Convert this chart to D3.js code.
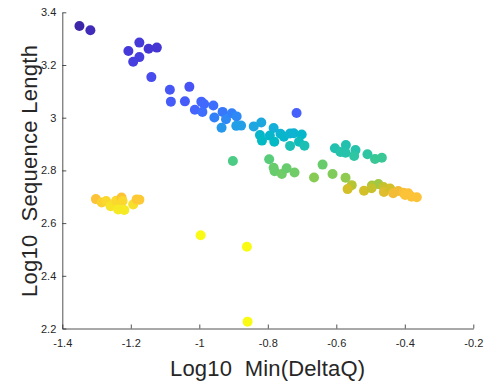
<!DOCTYPE html>
<html><head><meta charset="utf-8">
<script src="https://cdn.jsdelivr.net/npm/d3@7"></script>
<style>body{margin:0;background:#fff}svg{display:block}text{font-family:"Liberation Sans",Arial,sans-serif;fill:#262626}</style>
</head><body>
<svg id="c" width="487" height="387"></svg>
<script>
const xTicks = [-1.4,-1.2,-1,-0.8,-0.6,-0.4,-0.2];
const yTicks = [2.2,2.4,2.6,2.8,3,3.2,3.4];
const xLabel = "Log10  Min(DeltaQ)";
const yLabel = "Log10  Sequence Length";
const xVals = [-1.350,-1.318,-1.207,-1.175,-1.148,-1.124,-1.175,-1.193,-1.140,
 -1.086,-1.029,-1.083,-1.042,-1.013,-0.994,-0.986,-0.991,-0.959,-0.956,-0.932,-0.935,-0.922,-0.905,-0.891,-0.892,-0.878,-0.841,-0.819,
 -0.823,-0.817,-0.783,-0.794,-0.781,-0.763,-0.753,-0.735,-0.724,-0.701,-0.709,-0.693,-0.735,-0.716,
 -0.604,-0.588,-0.572,-0.573,-0.544,-0.548,-0.509,-0.487,-0.467,
 -0.902,-0.796,-0.783,-0.780,-0.759,-0.745,-0.722,-0.665,-0.640,-0.611,-0.573,-0.555,
 -0.567,-0.519,-0.496,-0.477,-0.497,-0.462,-0.461,-0.443,-0.434,-0.419,-0.404,-0.390,-0.399,-0.380,-0.365,
 -1.302,-1.285,-1.272,-1.259,-1.243,-1.237,-1.227,-1.224,-1.219,-1.193,-1.183,-1.175,
 -0.996,-0.861,-0.859];
const yVals = [3.348,3.332,3.253,3.285,3.262,3.266,3.230,3.212,3.154,
 3.106,3.117,3.061,3.062,3.030,3.061,3.052,3.022,3.046,3.001,3.022,2.962,2.994,3.017,3.005,2.969,2.970,2.967,2.982,
 2.934,2.913,2.961,2.932,2.909,2.939,2.928,2.940,2.941,2.936,2.909,2.894,2.893,3.018,
 2.884,2.870,2.896,2.867,2.877,2.855,2.861,2.843,2.848,
 2.836,2.842,2.810,2.797,2.786,2.808,2.792,2.773,2.822,2.786,2.772,2.744,
 2.729,2.723,2.743,2.748,2.732,2.737,2.718,2.731,2.713,2.722,2.715,2.713,2.707,2.700,2.698,
 2.691,2.678,2.684,2.664,2.685,2.652,2.697,2.684,2.650,2.671,2.690,2.689,
 2.554,2.510,2.226];
const cVals = [0.00,0.02,0.06,0.06,0.05,0.05,0.07,0.07,0.10,
 0.13,0.12,0.14,0.14,0.16,0.16,0.17,0.18,0.18,0.22,0.20,0.28,0.24,0.22,0.24,0.30,0.30,0.32,0.33,
 0.40,0.42,0.36,0.40,0.42,0.38,0.40,0.38,0.38,0.40,0.44,0.46,0.46,0.15,
 0.47,0.48,0.47,0.48,0.48,0.50,0.50,0.53,0.53,
 0.56,0.58,0.60,0.60,0.61,0.60,0.61,0.64,0.60,0.63,0.65,0.70,
 0.74,0.74,0.68,0.67,0.72,0.72,0.76,0.74,0.80,0.80,0.82,0.83,0.84,0.84,0.84,
 0.84,0.88,0.90,0.93,0.90,0.95,0.84,0.90,0.95,0.92,0.86,0.86,
 1.00,1.00,1.00];
const parula = [[0.2422,0.1504,0.6603],[0.2706,0.2147,0.8364],[0.2813,0.3006,0.9414],[0.2699,0.3892,0.9906],
 [0.1963,0.4847,0.9892],[0.1687,0.5703,0.9359],[0.1248,0.6459,0.8883],[0.0689,0.6948,0.8394],[0.0067,0.7312,0.7660],
 [0.1408,0.7584,0.6842],[0.2161,0.7843,0.5923],[0.3406,0.8008,0.4789],[0.5044,0.7993,0.3480],[0.6720,0.7793,0.2227],
 [0.8203,0.7498,0.1535],[0.9393,0.7288,0.2100],[0.9970,0.7659,0.2199],[0.9786,0.8386,0.1766],[0.9597,0.9135,0.1423],
 [0.9769,0.9839,0.0805]].map(c=>d3.rgb(c[0]*255,c[1]*255,c[2]*255).toString());
const cmap = d3.scaleLinear().domain(d3.range(parula.length).map(i=>i/(parula.length-1))).range(parula).interpolate(d3.interpolateRgb);

const svg = d3.select("#c");
const L=62.3,R=473.3,T=12.3,B=328.5;
const x = d3.scaleLinear().domain([-1.4,-0.2]).range([L,R]);
const y = d3.scaleLinear().domain([2.2,3.4]).range([B,T]);

const pts = xVals.map((v,i)=>({x:v,y:yVals[i],c:cVals[i]}));
svg.append("g").selectAll("circle").data(pts).join("circle")
 .attr("cx",d=>x(d.x)).attr("cy",d=>y(d.y)).attr("r",5).attr("fill",d=>cmap(d.c));

const fmt = d=>String(+d.toFixed(1));
const gx = svg.append("g").attr("transform",`translate(0,${B})`)
 .call(d3.axisBottom(x).tickValues(xTicks).tickFormat(fmt).tickSizeInner(-4).tickSizeOuter(0).tickPadding(11));
const gy = svg.append("g").attr("transform",`translate(${L},0)`)
 .call(d3.axisLeft(y).tickValues(yTicks).tickFormat(fmt).tickSizeInner(-4).tickSizeOuter(0).tickPadding(6));
[gx,gy].forEach(g=>{g.select(".domain").attr("stroke","#262626").attr("stroke-width",0.8);
 g.selectAll(".tick line").attr("stroke","#262626").attr("stroke-width",0.8);
 g.selectAll(".tick text").attr("font-size",11).attr("fill","#262626").style("font-family","Liberation Sans, Arial, sans-serif");});
gy.selectAll(".tick text").attr("x",-6);

svg.append("text").attr("x",267.5).attr("y",375.5).attr("text-anchor","middle").attr("font-size",22)
 .attr("textLength",195).attr("lengthAdjust","spacing").style("white-space","pre").text(xLabel);
svg.append("text").attr("transform","translate(37,171) rotate(-90)").attr("text-anchor","middle").attr("font-size",22)
 .attr("textLength",252).attr("lengthAdjust","spacing").style("white-space","pre").text(yLabel);
</script>
</body></html>
